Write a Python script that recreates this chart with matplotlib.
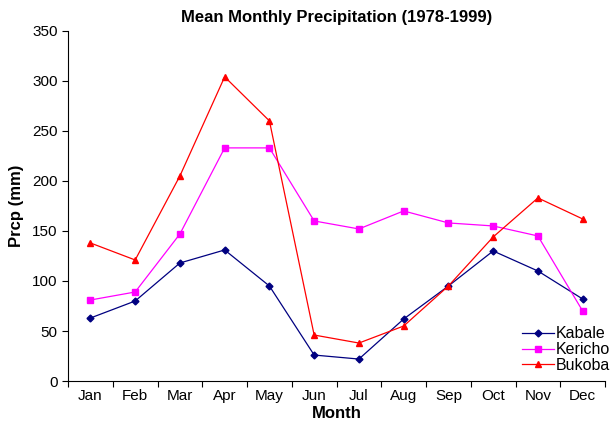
import matplotlib
matplotlib.use("Agg")
import matplotlib.pyplot as plt
import numpy as np

plt.rcParams['font.family'] = ['Liberation Sans', 'DejaVu Sans']

months = ["Jan", "Feb", "Mar", "Apr", "May", "Jun", "Jul", "Aug", "Sep", "Oct", "Nov", "Dec"]
kabale = [63, 80, 118, 131, 95, 26, 22, 62, 95, 130, 110, 82]
kericho = [81, 89, 147, 233, 233, 160, 152, 170, 158, 155, 145, 70]
bukoba = [138, 121, 205, 304, 260, 46, 38, 55, 95, 144, 183, 162]

fig = plt.figure(figsize=(6.13, 4.22), dpi=100)
ax = fig.add_axes([0.111, 0.097, 0.876, 0.830])

x = np.arange(len(months))
ax.plot(x, kabale, color="#000080", marker="D", markersize=3.5, lw=0.9, label="Kabale")
ax.plot(x, kericho, color="#FF00FF", marker="s", markersize=4.5, lw=0.9, label="Kericho")
ax.plot(x, bukoba, color="#FF0000", marker="^", markersize=4.5, lw=0.9, label="Bukoba")

ax.set_xlim(-0.5, len(months) - 0.5)
ax.set_ylim(0, 350)
ax.set_yticks(np.arange(0, 351, 50))
ax.set_xticks(x)
ax.set_xticklabels(months)
ax.set_xticks(np.arange(-0.5, len(months), 1.0), minor=True)
ax.tick_params(axis="x", which="major", length=0, labelsize=11, pad=6)
ax.tick_params(axis="x", which="minor", length=4, direction="out", width=0.8)
ax.tick_params(axis="y", length=4, direction="out", labelsize=11, width=0.8)
for s in ["top", "right"]:
    ax.spines[s].set_visible(False)
for s in ["left", "bottom"]:
    ax.spines[s].set_linewidth(0.8)

ax.set_title("Mean Monthly Precipitation (1978-1999)", fontsize=12, fontweight="bold", pad=6)
ax.set_xlabel("Month", fontsize=12, fontweight="bold", labelpad=2)
ax.set_ylabel("Prcp (mm)", fontsize=12, fontweight="bold", labelpad=6)

leg = ax.legend(loc="lower right", frameon=False, fontsize=11.5, handlelength=2.0,
                handletextpad=0.15, labelspacing=0.05, borderaxespad=0.1,
                bbox_to_anchor=(1.025, 0.0))

fig.savefig("out.png", dpi=100)
